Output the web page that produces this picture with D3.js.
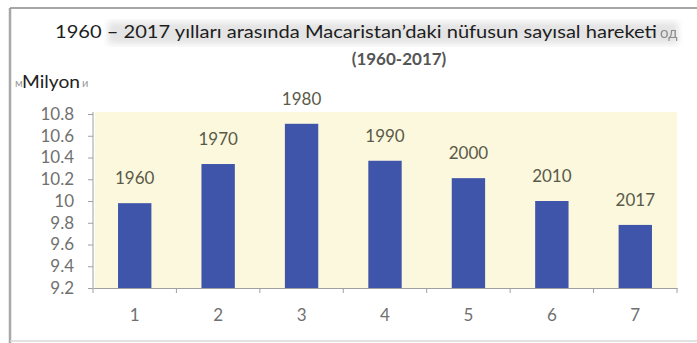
<!DOCTYPE html>
<html>
<head>
<meta charset="utf-8">
<script src="https://cdn.jsdelivr.net/npm/d3@7"></script>
<style>
  html, body { margin: 0; padding: 0; background: #fff; }
  svg { display: block; }
</style>
</head>
<body>
<svg id="chart" width="697" height="343"></svg>
<script>
// ---- data ----
const categories = ["1", "2", "3", "4", "5", "6", "7"];
const populationMillions = [9.98, 10.34, 10.71, 10.37, 10.21, 10.00, 9.78];
const yearLabels = ["1960", "1970", "1980", "1990", "2000", "2010", "2017"];
const yTickValues = [9.2, 9.4, 9.6, 9.8, 10, 10.2, 10.4, 10.6, 10.8];
const titleLine1 = "1960 – 2017 yılları arasında Macaristan’daki nüfusun sayısal hareketi";
const titleResidue = "од";
const titleLine2 = "(1960-2017)";
const unitLabel = "Milyon";

// ---- layout ----
const svg = d3.select("#chart");
const font = "Lato, 'Open Sans', sans-serif";
const plot = { left: 93, right: 677, top: 112, bottom: 288 };

const x = d3.scaleBand().domain(categories).range([plot.left, plot.right]).paddingInner(0.6).paddingOuter(0.3);
const xOuter = d3.scaleBand().domain(categories).range([plot.left, plot.right]);
const y = d3.scaleLinear().domain([9.2, 10.8]).range([plot.bottom, plot.top + 2]);

// frame
svg.append("line").attr("x1", 10).attr("x2", 10).attr("y1", 8).attr("y2", 343)
  .attr("stroke", "#a8a8a8").attr("stroke-width", 2.5);
svg.append("line").attr("x1", 10).attr("x2", 697).attr("y1", 8).attr("y2", 8)
  .attr("stroke", "#8a8a8a").attr("stroke-width", 1.5);
svg.append("line").attr("x1", 10).attr("x2", 697).attr("y1", 341).attr("y2", 341)
  .attr("stroke", "#d8d8d8").attr("stroke-width", 1.5);

// blurred backdrop of the overlaid title
const defs = svg.append("defs");
defs.append("filter").attr("id", "blur").append("feGaussianBlur").attr("stdDeviation", 3);
svg.append("rect").attr("x", 108).attr("y", 22).attr("width", 570).attr("height", 22)
  .attr("fill", "#e4e4e4").attr("filter", "url(#blur)");

// plot background
svg.append("rect").attr("x", plot.left + 2).attr("y", plot.top)
  .attr("width", plot.right - plot.left - 2).attr("height", plot.bottom - plot.top)
  .attr("fill", "#fbf8de");

// titles
svg.append("text").attr("x", 55).attr("y", 38)
  .attr("font-family", font).attr("font-size", 18).attr("fill", "#1e1e1e")
  .attr("textLength", 602).attr("lengthAdjust", "spacingAndGlyphs")
  .text(titleLine1);
svg.append("text").attr("x", 660).attr("y", 38)
  .attr("font-family", font).attr("font-size", 15).attr("fill", "#777").attr("opacity", 0.8)
  .text(titleResidue);
svg.append("text").attr("x", 399).attr("y", 65).attr("text-anchor", "middle")
  .attr("font-family", font).attr("font-size", 17).attr("font-weight", "bold").attr("fill", "#555")
  .text(titleLine2);

// unit label with faint residue marks
svg.append("text").attr("x", 15).attr("y", 87)
  .attr("font-family", font).attr("font-size", 11).attr("fill", "#999").text("м");
svg.append("text").attr("x", 22).attr("y", 88)
  .attr("font-family", font).attr("font-size", 18).attr("fill", "#222")
  .attr("textLength", 58).attr("lengthAdjust", "spacingAndGlyphs").text(unitLabel);
svg.append("text").attr("x", 82).attr("y", 87)
  .attr("font-family", font).attr("font-size", 11).attr("fill", "#999").text("и");

// bars
svg.append("g").selectAll("rect").data(populationMillions).join("rect")
  .attr("x", (d, i) => x(categories[i]))
  .attr("width", x.bandwidth())
  .attr("y", d => y(d))
  .attr("height", d => plot.bottom - y(d))
  .attr("fill", "#3f55a9");

// value (year) labels
svg.append("g").selectAll("text").data(populationMillions).join("text")
  .attr("x", (d, i) => x(categories[i]) + x.bandwidth() / 2)
  .attr("y", d => y(d) - 19)
  .attr("text-anchor", "middle")
  .attr("font-family", font).attr("font-size", 17).attr("fill", "#5a5a48")
  .text((d, i) => yearLabels[i]);

// y axis
const yAxis = svg.append("g").attr("transform", `translate(${plot.left},0)`)
  .call(d3.axisLeft(y).tickValues(yTickValues).tickSize(5).tickSizeOuter(0)
    .tickFormat(d => d3.format("~g")(d)));
yAxis.select(".domain").attr("stroke", "#a0a0a0").attr("d", `M0,${plot.top}V${plot.bottom}`);
yAxis.selectAll(".tick line").attr("stroke", "#a0a0a0");
yAxis.selectAll(".tick text").attr("font-family", font).attr("font-size", 17)
  .attr("fill", "#707070").attr("x", -19);

// x axis
const xAxis = svg.append("g").attr("transform", `translate(0,${plot.bottom})`)
  .call(d3.axisBottom(xOuter).tickSize(0).tickSizeOuter(0));
xAxis.select(".domain").attr("stroke", "#a0a0a0");
xAxis.selectAll(".tick text").attr("font-family", font).attr("font-size", 17)
  .attr("fill", "#707070").attr("dy", 0).attr("y", 33);
const boundaries = categories.map(c => xOuter(c)).concat([plot.right]);
xAxis.append("g").selectAll("line").data(boundaries).join("line")
  .attr("x1", d => d).attr("x2", d => d).attr("y1", 0).attr("y2", 5)
  .attr("stroke", "#a0a0a0");
</script>
</body>
</html>
